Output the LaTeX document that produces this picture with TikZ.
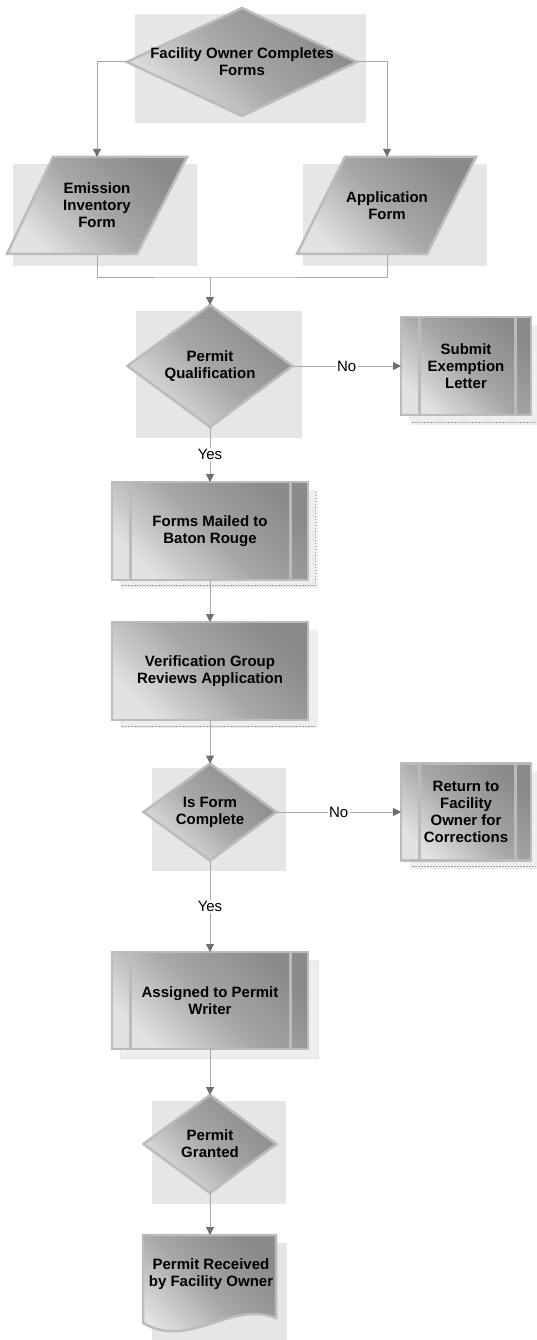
\documentclass[tikz,border=0pt]{standalone}
\usepackage{fontspec}
\setmainfont{Liberation Sans}
\usetikzlibrary{shapes.geometric,arrows.meta}
\definecolor{bgc}{HTML}{E6E6E6}
\definecolor{bordc}{HTML}{BBBBBB}
\definecolor{shdark}{HTML}{8A8A8A}
\definecolor{shmid}{HTML}{A6A6A6}
\definecolor{shlight}{HTML}{E2E2E2}
\definecolor{linec}{HTML}{A8A8A8}
\definecolor{tipc}{HTML}{6E6E6E}
\definecolor{shadc}{HTML}{EEEEEE}
\definecolor{dotc}{HTML}{A0A0A0}
\begin{document}
\begin{tikzpicture}[x=1pt,y=-1pt,
  bgbox/.style={fill=bgc},
  grad/.style={top color=shdark, bottom color=shlight, middle color=shmid, shading angle=-45},
  dia/.style={diamond, grad, draw=bordc, line width=2.5pt, inner sep=0pt, outer sep=0pt},
  pbox/.style={rectangle, grad, draw=bordc, line width=2.5pt, inner sep=0pt, outer sep=0pt},
  bar/.style={draw=bordc, line width=3pt},
  shad/.style={fill=shadc},
  dotl/.style={draw=dotc, line width=0.6pt, dash pattern=on 1.5pt off 1.5pt},
  lbl/.style={font=\bfseries\fontsize{15}{17}\selectfont, align=center, inner sep=0pt},
  lab/.style={fill=white, font=\fontsize{15}{17}\selectfont, inner sep=1.5pt},
  line/.style={draw=linec, line width=1pt},
  conn/.style={line, -{Triangle[length=8pt,width=8pt,color=tipc]}}
]
\useasboundingbox (0,0) rectangle (536,1340);
\fill[white] (0,0) rectangle (536,1340);

% background rectangles
\fill[bgbox] (135,14) rectangle (366,123);
\fill[bgbox] (13,164) rectangle (197,266);
\fill[bgbox] (303,164) rectangle (487,266);
\fill[bgbox] (136,311) rectangle (302,438);
\fill[bgbox] (152,768) rectangle (286,871);
\fill[bgbox] (152,1101) rectangle (286,1204);
\fill[bgbox] (152,1243) rectangle (287,1340);

% shadows of process boxes
\fill[shad] (410,325) rectangle (540,425);
\draw[dotl] (412,422) -- (536,422);
\fill[shad] (120,490) rectangle (318,588);
\draw[dotl] (122,585) -- (315,585) -- (315,492);
\fill[shad] (120,630) rectangle (318,728);
\draw[dotl] (122,726) -- (315,726);
\fill[shad] (410,771) rectangle (540,869);
\draw[dotl] (412,866) -- (536,866);
\fill[shad, draw=bgc] (120,960) rectangle (318,1058);

% top diamond
\node[dia, minimum width=230pt, minimum height=108pt] (d1) at (242,62) {};
\node[lbl] at (d1) {Facility Owner Completes\\Forms};

% parallelograms
\draw[grad, draw=bordc, line width=2.5pt] (53,157) -- (187,157) -- (137,254) -- (7,254) -- cycle;
\node[lbl, minimum height=97pt] (ef) at (97,205.5) {Emission\\Inventory\\Form};
\draw[grad, draw=bordc, line width=2.5pt] (345,157) -- (476,157) -- (427,254) -- (297,254) -- cycle;
\node[lbl, minimum height=97pt] (af) at (387,205.5) {Application\\Form};

% permit qualification
\node[dia, minimum width=165pt, minimum height=122pt] (pq) at (210,366) {};
\node[lbl] at (pq) {Permit\\Qualification};

% submit exemption letter
\node[pbox, minimum width=130pt, minimum height=98pt] (sel) at (466,366) {};
\draw[bar] ([xshift=18pt]sel.north west) -- ([xshift=18pt]sel.south west);
\draw[bar] ([xshift=-16pt]sel.north east) -- ([xshift=-16pt]sel.south east);
\node[lbl] at (sel) {Submit\\Exemption\\Letter};

% forms mailed
\node[pbox, minimum width=196pt, minimum height=98pt] (fm) at (210,531) {};
\draw[bar] ([xshift=18pt]fm.north west) -- ([xshift=18pt]fm.south west);
\draw[bar] ([xshift=-18pt]fm.north east) -- ([xshift=-18pt]fm.south east);
\node[lbl] at (fm) {Forms Mailed to\\Baton Rouge};

% verification
\node[pbox, minimum width=196pt, minimum height=98pt] (vg) at (210,671) {};
\node[lbl] at (vg) {Verification Group\\Reviews Application};

% is form complete
\node[dia, minimum width=133pt, minimum height=97pt] (ifc) at (210,812) {};
\node[lbl] at (ifc) {Is Form\\Complete};

% return to facility owner
\node[pbox, minimum width=130pt, minimum height=97pt] (rt) at (466,812) {};
\draw[bar] ([xshift=18pt]rt.north west) -- ([xshift=18pt]rt.south west);
\draw[bar] ([xshift=-16pt]rt.north east) -- ([xshift=-16pt]rt.south east);
\node[lbl] at (rt) {Return to\\Facility\\Owner for\\Corrections};

% assigned
\node[pbox, minimum width=196pt, minimum height=97pt] (as) at (210,1000.5) {};
\draw[bar] ([xshift=18pt]as.north west) -- ([xshift=18pt]as.south west);
\draw[bar] ([xshift=-18pt]as.north east) -- ([xshift=-18pt]as.south east);
\node[lbl] at (as) {Assigned to Permit\\Writer};

% permit granted
\node[dia, minimum width=133pt, minimum height=98pt] (pg) at (210,1144) {};
\node[lbl] at (pg) {Permit\\Granted};

% document
\node[rectangle, minimum width=133pt, minimum height=88pt, inner sep=0pt, outer sep=0pt, anchor=north] (doc) at (210,1235) {};
\draw[grad, draw=bordc, line width=2.5pt] (143,1235) -- (276,1235) -- (276,1318)
  .. controls (230,1300) and (190,1350) .. (143,1323) -- cycle;
\node[lbl] at (211,1274) {Permit Received\\by Facility Owner};

% connectors
\coordinate (j) at (210,277);
\draw[conn] (d1.west) -| (ef.north);
\draw[conn] (d1.east) -| (af.north);
\draw[line] (ef.south) |- (j) -| (af.south);
\draw[conn] (j) -- (pq.north);
\draw[conn] (pq.east) -- node[lab] {No} (sel.west);
\draw[conn] (pq.south) -- node[lab] {Yes} (fm.north);
\draw[conn] (fm.south) -- (vg.north);
\draw[conn] (vg.south) -- (ifc.north);
\draw[conn] (ifc.east) -- node[lab] {No} (rt.west);
\draw[conn] (ifc.south) -- node[lab] {Yes} (as.north);
\draw[conn] (as.south) -- (pg.north);
\draw[conn] (pg.south) -- (doc.north);
\end{tikzpicture}
\end{document}
